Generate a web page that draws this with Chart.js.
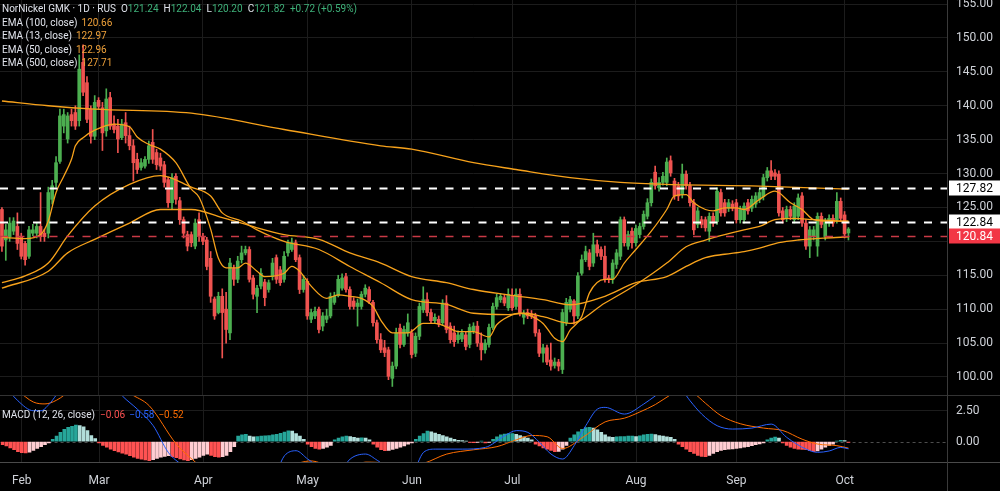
<!DOCTYPE html>
<html>
<head>
<meta charset="utf-8">
<script src="https://cdn.jsdelivr.net/npm/chart.js@4.4.1/dist/chart.umd.min.js"></script>
<style>
  html, body { margin: 0; padding: 0; background: #000; overflow: hidden; }
  #wrap { position: relative; width: 1000px; height: 491px; overflow: hidden; background: #000; font-family: Roboto, "Liberation Sans", sans-serif; }
  canvas { position: absolute; left: 0; display: block; }
  #price { top: 0; }
  #macd { top: 395px; }
  .hsep { position: absolute; left: 0; width: 1000px; height: 1px; }
  .vsep { position: absolute; left: 947px; top: 0; width: 1px; height: 491px; background: #3a3a3a; }
  .legend { position: absolute; left: 2px; font-size: 10px; line-height: 13.6px; color: #e0e3eb; white-space: nowrap; }
  .legend span { margin-left: 4px; }
  .legend .k { margin-left: 5px; }
  .legend .k + span { margin-left: 0; }
  .up { color: #3fb27a; }
  .ema { color: #f0a23a; }
</style>
</head>
<body>
<div id="wrap">
  <canvas id="price" width="1000" height="395"></canvas>
  <canvas id="macd" width="1000" height="96"></canvas>
  <div class="hsep" style="top:395px;background:#333"></div>
  <div class="hsep" style="top:462px;background:#4a4a4a"></div>
  <div class="vsep"></div>
  <div class="legend" style="top:2px">
    <div>NorNickel GMK · 1D · RUS<span class="k">O</span><span class="up">121.24</span><span class="k">H</span><span class="up">122.04</span><span class="k">L</span><span class="up">120.20</span><span class="k">C</span><span class="up">121.82</span><span class="up" style="margin-left:5px">+0.72 (+0.59%)</span></div>
    <div>EMA (100, close)<span class="ema">120.66</span></div>
    <div>EMA (13, close)<span class="ema">122.97</span></div>
    <div>EMA (50, close)<span class="ema">122.96</span></div>
    <div>EMA (500, close)<span class="ema">127.71</span></div>
  </div>
  <div class="legend" style="top:408px">MACD (12, 26, close)<span style="color:#ff5252;margin-left:5px">−0.06</span><span style="color:#2962ff">−0.58</span><span style="color:#ff6d00">−0.52</span></div>
</div>
<script>
// slots on the time axis (trading days + empty space on the right)
const slots = Array.from({ length: 245 }, (_, i) => i);
const monthNames = ['Feb', 'Mar', 'Apr', 'May', 'Jun', 'Jul', 'Aug', 'Sep', 'Oct'];
const monthSlots = [5, 25, 52, 79, 106, 132, 164, 190, 218];
const priceTicks = [100, 105, 110, 115, 120, 125, 130, 135, 140, 145, 150, 155];
const macdTicks = [0, 2.5];

// daily candles
const opens = [124.7,120.2,120.7,121.5,122.2,120.7,119.7,117.8,121.2,121.2,122.2,121.2,121.2,126.2,128.7,131.8,137.0,135.1,138.7,139.0,
  137.8,146.4,143.4,139.5,135.5,140.8,139.7,136.3,141.2,137.3,137.0,135.3,137.5,135.6,134.1,132.1,130.9,131.1,132.1,134.6,
  133.1,132.3,131.3,129.1,125.7,129.6,126.0,123.2,121.0,121.0,119.3,123.2,120.7,120.2,117.5,111.5,109.5,111.9,110.0,106.5,
  116.0,114.4,117.3,118.3,118.8,114.6,111.9,113.4,114.0,112.9,114.8,117.6,115.8,114.4,118.3,118.8,119.8,117.6,112.9,114.1,
  108.5,109.0,110.0,107.5,108.5,109.0,111.0,112.0,113.1,114.8,112.9,111.2,110.4,110.4,112.2,112.9,111.0,108.0,105.5,104.3,
  104.0,99.8,101.6,107.2,104.8,106.5,106.5,103.5,106.0,109.9,111.4,109.5,108.3,108.5,108.0,110.9,107.5,106.5,105.5,105.6,
  106.2,104.8,106.8,107.5,105.0,104.0,104.8,107.3,110.4,111.4,111.7,110.2,111.9,110.4,112.2,108.8,109.5,109.3,109.0,106.5,
  103.5,104.3,102.5,101.7,102.2,101.1,108.0,110.0,111.2,109.0,115.3,117.3,118.3,116.8,119.5,118.8,117.8,114.6,114.4,116.6,
  117.8,123.2,119.3,121.5,119.8,121.0,122.2,123.7,125.7,130.2,127.9,128.7,128.7,131.9,128.9,128.2,126.9,129.9,128.2,125.7,
  122.5,123.2,123.2,121.5,123.7,122.9,127.2,125.7,124.9,125.5,125.7,123.2,123.2,125.7,124.9,125.5,126.2,126.6,129.4,130.4,
  130.1,129.9,124.5,123.4,124.7,123.2,123.7,126.7,122.7,119.3,120.7,119.3,123.7,120.7,122.7,123.4,123.2,125.9,123.9,121.24];
const highs = [125.0,122.5,123.5,123.5,124.2,121.2,120.0,122.2,122.5,122.8,127.2,121.8,128.0,129.0,132.5,139.5,139.5,139.0,139.5,140.0,
  147.5,149.0,144.3,140.0,141.5,141.2,140.5,142.5,142.0,138.5,138.0,138.0,139.0,137.0,135.0,133.0,132.2,132.5,134.8,136.5,
  133.6,133.0,131.8,129.5,130.0,130.0,126.5,123.6,121.5,121.4,123.3,124.2,121.2,120.6,118.5,111.8,112.5,113.0,112.5,117.5,
  116.5,117.8,119.3,119.3,119.2,115.0,113.5,116.0,114.4,114.3,117.5,118.0,116.3,118.5,120.2,120.5,120.2,118.0,115.0,114.5,
  110.0,110.3,110.3,109.5,110.0,112.4,112.5,115.0,115.2,115.3,113.3,111.7,111.5,112.6,113.6,113.3,111.3,108.4,106.4,105.4,
  104.4,102.2,107.2,107.8,107.5,109.3,107.0,106.5,110.9,113.3,112.4,110.0,109.3,109.0,111.4,112.0,108.0,107.5,106.8,107.0,
  106.6,107.8,108.0,108.2,106.5,105.5,107.8,110.9,112.2,112.3,112.2,113.0,113.0,113.0,113.0,109.8,110.0,109.8,109.4,107.0,
  104.8,104.7,105.0,102.8,102.6,110.0,111.6,111.9,111.4,115.4,118.0,119.3,118.8,121.2,120.2,119.2,119.3,115.0,117.3,118.8,
  123.6,123.6,121.5,122.0,122.4,122.7,124.5,126.3,129.2,131.1,129.4,130.2,132.3,132.6,129.3,128.7,131.4,130.4,128.7,126.2,
  125.0,123.7,123.6,124.2,124.2,127.9,127.7,126.2,126.2,126.0,126.2,125.2,125.7,126.2,126.7,127.2,127.7,129.9,130.9,131.9,
  130.6,130.4,125.0,125.2,125.2,125.7,127.0,127.2,123.2,122.2,122.2,124.2,124.2,123.4,123.9,123.9,127.2,126.4,124.4,122.04];
const lows = [118.5,117.2,120.0,121.0,118.8,117.4,116.5,117.5,120.8,120.5,120.0,120.0,120.5,125.5,128.0,131.5,136.0,134.5,137.0,136.5,
  137.0,141.5,137.5,134.5,135.0,139.5,133.4,135.5,136.5,136.0,133.1,135.0,134.5,133.5,128.9,130.0,130.5,130.8,131.5,131.5,
  130.6,130.5,128.0,125.0,124.7,125.5,122.5,120.5,118.6,119.2,118.9,120.0,119.5,115.8,111.0,108.5,109.3,102.8,105.0,105.5,
  113.5,113.9,116.8,118.0,114.0,111.5,109.5,113.0,110.5,112.5,114.3,113.8,113.5,114.0,117.8,118.5,117.0,112.3,112.5,108.5,
  108.0,108.6,106.5,106.8,108.0,108.7,110.7,111.8,112.8,112.5,110.0,110.0,107.5,110.0,111.8,110.8,107.5,105.0,103.6,103.0,
  99.6,98.6,101.2,104.3,104.5,106.0,102.8,103.0,105.5,109.5,109.0,107.9,108.0,107.4,107.6,106.5,105.0,104.5,105.0,105.2,
  104.0,104.3,106.4,104.5,102.5,103.5,104.4,107.0,110.0,111.0,110.5,109.8,109.8,110.0,109.0,107.8,108.6,108.6,106.0,103.0,
  102.2,101.8,101.0,101.3,100.9,100.5,107.6,109.6,107.8,108.6,115.0,117.0,115.8,116.3,117.8,117.3,114.0,113.9,113.8,116.0,
  117.3,119.3,118.8,119.0,119.3,120.5,121.8,123.3,125.2,127.7,127.4,128.3,128.2,129.6,126.2,126.0,126.4,127.7,125.2,121.0,
  122.0,122.0,121.5,120.0,122.2,122.5,123.7,123.7,124.4,124.5,122.7,122.7,122.7,124.0,124.4,125.0,125.7,126.1,128.9,129.1,
  129.1,123.7,122.7,122.9,123.2,122.7,123.2,122.2,118.8,117.6,120.2,117.8,122.0,120.2,122.2,122.2,122.7,122.9,120.5,120.20];
const closes = [119.3,121.7,122.7,123.0,119.7,117.8,117.3,121.7,121.7,122.2,120.7,120.7,127.2,128.2,131.6,138.5,138.7,138.5,137.8,137.0,
  145.4,142.0,138.0,135.5,140.5,139.9,136.0,141.0,137.0,136.5,135.1,137.3,135.6,134.1,131.6,130.6,131.6,132.1,134.1,132.1,
  131.3,131.1,128.7,125.7,129.4,126.2,123.2,121.2,119.3,119.8,122.7,120.7,120.0,116.3,111.9,109.0,111.9,109.5,107.0,116.8,
  114.4,117.1,118.3,118.8,114.4,112.2,113.1,115.3,111.7,113.9,116.8,114.4,113.9,117.8,119.8,119.8,117.3,112.9,114.4,109.0,
  109.5,109.7,107.0,109.0,109.0,111.9,111.9,114.4,114.6,112.9,110.4,110.4,110.9,112.2,113.1,111.2,108.0,105.5,104.0,103.6,
  100.1,101.6,106.5,104.8,107.0,108.0,103.3,106.0,110.4,111.4,109.5,108.3,108.8,107.8,110.9,107.0,105.5,105.2,106.2,106.5,
  104.5,107.3,107.5,105.0,104.0,105.0,107.3,110.4,111.7,111.9,110.9,112.2,110.2,112.2,109.5,109.3,109.0,109.0,106.5,103.5,
  104.3,102.2,101.6,102.2,101.6,109.5,111.0,111.4,109.0,114.9,117.3,118.5,116.3,119.5,118.3,117.8,114.4,114.4,116.8,118.3,
  123.2,119.8,121.0,119.8,121.9,122.2,124.0,125.7,128.7,128.2,128.7,129.6,131.7,130.1,126.7,126.7,129.9,128.2,125.7,121.7,
  124.5,122.5,122.0,123.7,122.7,127.4,124.2,124.2,125.7,124.9,123.2,124.7,125.2,124.5,126.2,126.7,127.2,129.4,130.4,129.6,
  129.6,124.2,123.2,124.7,123.7,125.2,126.4,122.7,119.3,121.7,121.7,123.7,122.5,122.9,123.4,122.7,125.9,123.4,121.1,121.82];

// moving averages: [slot, value]
const ema13 = [[0,120.6],[6,120.4],[10,121.0],[12,123.0],[14,127.2],[16,129.6],[18,132.1],[19,134.1],[21,135.3],[24,136.4],
  [29,137.3],[33,136.9],[35,135.4],[38,134.3],[41,133.6],[45,131.6],[49,127.7],[51,126.5],[54,121.8],[56,117.5],[58,116.1],
  [61,116.1],[63,116.8],[66,115.6],[68,114.8],[73,115.3],[75,116.3],[77,115.6],[80,113.4],[84,111.6],[87,112.1],[90,111.9],
  [93,111.6],[96,110.4],[98,108.4],[101,106.5],[105,106.5],[109,107.9],[112,107.9],[115,107.4],[118,106.7],[122,106.7],
  [126,105.9],[128,107.7],[131,108.9],[134,109.4],[136,109.2],[140,107.9],[143,105.7],[145,105.2],[147,106.9],[150,108.9],
  [152,112.4],[156,114.4],[158,114.4],[161,116.8],[164,118.8],[168,121.5],[172,124.7],[174,126.7],[177,126.9],[179,125.7],
  [182,124.7],[184,124.5],[187,124.95],[190,124.95],[192,124.7],[196,126.2],[200,127.4],[204,125.7],[207,124.7],[210,123.2],
  [213,123.0],[219,122.97]];
const ema50 = [[0,113.9],[6,114.9],[12,116.8],[17,120.8],[24,125.2],[33,128.4],[41,129.7],[49,128.0],[54,126.7],[57,124.2],
  [62,123.0],[66,121.7],[73,120.0],[82,118.8],[90,116.3],[98,113.9],[106,111.4],[115,110.7],[122,109.4],[131,109.2],[135,109.4],
  [140,108.9],[147,107.9],[156,110.9],[164,113.6],[172,116.8],[177,119.2],[182,120.2],[187,121.0],[192,121.7],[196,122.2],
  [200,123.2],[205,123.4],[210,123.2],[219,122.96]];
const ema100 = [[0,113.1],[12,115.6],[17,118.3],[24,120.3],[33,122.7],[41,124.7],[49,124.7],[57,123.5],[62,122.7],[66,122.0],
  [73,121.0],[82,120.3],[90,118.3],[98,116.8],[106,114.8],[115,113.9],[122,112.9],[131,112.1],[140,111.4],[147,110.65],
  [156,111.9],[164,113.9],[172,114.8],[177,116.3],[182,117.6],[187,118.1],[192,118.5],[196,119.0],[201,119.8],[206,120.2],
  [213,120.5],[219,120.66]];
const ema500 = [[0,140.7],[12,140.0],[24,139.5],[49,138.9],[73,136.5],[98,134.1],[106,133.6],[122,131.6],[133,130.6],
  [147,129.4],[160,128.7],[172,128.4],[196,128.15],[219,127.71]];

// MACD pane
const histogram = [-0.25,-0.35,-0.5,-0.65,-0.8,-0.88,-0.9,-0.85,-0.7,-0.55,-0.4,-0.25,-0.1,
  0.2,0.45,0.75,1.0,1.15,1.25,1.35,1.3,1.2,0.9,0.5,0.25,-0.1,
  -0.3,-0.45,-0.6,-0.72,-0.82,-0.92,-1.0,-1.12,-1.25,-1.35,-1.42,-1.48,-1.53,-1.45,-1.35,-1.26,-1.18,-1.13,-1.2,-1.3,-1.4,
  -1.48,-1.53,-1.45,-1.35,-1.25,-1.1,-1.0,-1.1,-1.2,-1.26,-1.2,-1.1,-0.8,-0.4,
  0.45,0.55,0.6,0.45,0.4,0.42,0.45,0.48,0.5,0.55,0.6,0.68,0.78,0.88,0.85,0.65,0.45,0.2,
  -0.2,-0.4,-0.55,-0.6,-0.55,-0.45,-0.3,
  0.15,0.3,0.4,0.45,0.42,0.35,0.3,0.32,0.3,0.15,
  -0.2,-0.45,-0.65,-0.73,-0.7,-0.62,-0.55,-0.45,-0.35,-0.2,-0.1,
  0.2,0.45,0.65,0.85,0.8,0.7,0.6,0.5,0.4,0.3,0.2,
  0.1,0.08,0.05,-0.05,-0.08,-0.05,0.05,-0.1,-0.05,
  0.2,0.4,0.55,0.62,0.65,0.66,0.6,0.5,0.4,0.3,0.15,
  -0.2,-0.35,-0.5,-0.6,-0.7,-0.8,-0.78,-0.6,-0.3,
  0.3,0.55,0.8,1.0,1.13,1.15,1.1,0.95,0.75,0.55,0.4,0.35,0.4,0.42,0.42,0.45,0.45,0.42,0.48,0.55,0.6,0.62,0.58,0.5,0.45,0.4,0.35,0.2,
  -0.2,-0.4,-0.6,-0.8,-0.95,-1.1,-1.18,-1.2,-1.1,-0.95,-0.8,-0.7,-0.65,-0.6,-0.58,-0.55,-0.5,-0.45,-0.4,-0.32,-0.25,-0.18,-0.1,
  0.15,0.3,0.38,0.3,
  -0.1,-0.3,-0.45,-0.55,-0.6,-0.62,-0.65,-0.72,-0.8,-0.75,-0.6,-0.45,-0.3,-0.2,
  0.05,0.1,0.08,-0.06];
const macdLine = [[0,4.75],[4,3.3],[8,2.5],[10,2.5],[12,3.0],[14,3.8],[16,4.7],[20,6.0],[26,5.5],[31,3.7],[35,2.6],[39,1.3],[43,-0.9],
  [48,-2.2],[52,-3.2],[60,-3.8],[66,-3.0],[71,-2.3],[73,-1.13],[76,-0.73],[79,-1.4],[84,-2.47],[86,-2.8],[88,-2.2],[90,-1.4],
  [94,-1.0],[97,-1.5],[101,-2.3],[106,-2.4],[109,-0.86],[112,-0.6],[119,-0.6],[125,-0.46],[130,0.48],[133,0.89],[136,0.75],
  [139,-0.05],[142,-1.0],[145,-1.4],[148,-0.32],[151,1.29],[154,2.63],[156,2.77],[161,2.23],[166,3.04],[169,3.7],[173,4.5],
  [176,4.1],[178,3.3],[181,2.23],[185,1.29],[189,1.02],[194,1.1],[199,1.42],[203,0.35],[208,-0.6],[211,-0.86],[214,-0.75],
  [217,-0.46],[219,-0.58]];
const signalLine = [[0,5.0],[4,4.1],[8,3.2],[11,3.05],[14,3.35],[18,4.2],[24,5.0],[29,4.9],[33,3.9],[38,2.9],[45,-0.19],[50,-1.67],
  [53,-2.47],[60,-3.4],[66,-3.3],[70,-3.0],[73,-2.2],[77,-1.7],[80,-1.55],[85,-1.95],[90,-1.95],[94,-1.65],[100,-1.75],
  [104,-2.0],[109,-1.75],[115,-1.0],[122,-0.65],[128,-0.4],[133,0.15],[137,0.5],[141,0.4],[145,-0.55],[150,0.3],[156,1.6],
  [161,1.9],[165,2.4],[169,3.0],[173,3.8],[176,4.3],[179,3.9],[182,3.1],[186,2.1],[191,1.45],[197,1.1],[202,0.9],[207,0.2],
  [211,-0.19],[216,-0.32],[219,-0.52]];

// horizontal price levels
const levels = [127.82, 122.84, 120.84];

const UP = '#4caf50';
const DOWN = '#ef5350';
const EMA_COLOR = '#f7a21b';
const GRID = '#1c1c1c';
const TICK_COLOR = '#cfd2d8';
const axisFont = { family: 'Roboto', size: 12 };

const toPoints = pts => pts.map(([x, y]) => ({ x, y }));
const candleColors = closes.map((c, i) => (c >= opens[i] ? UP : DOWN));
const histColors = histogram.map((v, i) => {
  const prev = i > 0 ? histogram[i - 1] : 0;
  if (v >= 0) return v >= prev ? '#26a69a' : '#b2dfdb';
  return v <= prev ? '#ff5252' : '#ffcdd2';
});

function monthAxis(showLabels) {
  return {
    type: 'category',
    offset: true,
    afterBuildTicks: s => { s.ticks = monthSlots.map(v => ({ value: v })); },
    afterFit: s => { s.height = showLabels ? 29 : 0; },
    ticks: {
      display: showLabels, autoSkip: false, maxRotation: 0, padding: 12,
      color: TICK_COLOR, font: axisFont,
      callback: (v, i) => monthNames[i]
    },
    grid: { color: GRID, offset: false, drawTicks: false },
    border: { display: false }
  };
}

// right-hand value axis: fixed width, no extra room above/below for labels
function valueAxis(min, max, tickValues, format, gridColor) {
  return {
    position: 'right', min, max,
    afterBuildTicks: s => { s.ticks = tickValues.map(v => ({ value: v })); },
    afterFit: s => { s.width = 53; s.paddingTop = 0; s.paddingBottom = 0; },
    ticks: { color: TICK_COLOR, font: axisFont, padding: 9, callback: format },
    grid: { color: gridColor, drawTicks: false },
    border: { display: false }
  };
}

function emaDataset(pts) {
  return {
    type: 'line', data: toPoints(pts), borderColor: EMA_COLOR, borderWidth: 1.3,
    pointRadius: 0, cubicInterpolationMode: 'monotone', order: 0
  };
}

// dashed price lines and their labels on the axis
const priceLevels = {
  id: 'priceLevels',
  afterDatasetsDraw(chart) {
    const { ctx, chartArea, scales: { y } } = chart;
    ctx.save();
    levels.forEach((v, k) => {
      const py = Math.round(y.getPixelForValue(v)) + 0.5;
      ctx.setLineDash([8, 8.5]);
      ctx.strokeStyle = k === 2 ? '#c93a46' : '#ffffff';
      ctx.lineWidth = k === 2 ? 1.5 : 2;
      ctx.beginPath();
      ctx.moveTo(chartArea.left, py);
      ctx.lineTo(chartArea.right, py);
      ctx.stroke();
    });
    ctx.restore();
  },
  afterDraw(chart) {
    const { ctx, chartArea, scales: { y } } = chart;
    ctx.save();
    ctx.font = '12px Roboto';
    ctx.textBaseline = 'middle';
    levels.forEach((v, k) => {
      const py = Math.round(y.getPixelForValue(v));
      ctx.fillStyle = k === 2 ? '#f23645' : '#ffffff';
      ctx.fillRect(chartArea.right + 2, py - 7.5, 51, 15);
      ctx.fillStyle = k === 2 ? '#ffffff' : '#000000';
      ctx.fillText(v.toFixed(2), chartArea.right + 9, py + 0.5);
    });
    ctx.restore();
  }
};

const zeroLine = {
  id: 'zeroLine',
  beforeDatasetsDraw(chart) {
    const { ctx, chartArea, scales: { y } } = chart;
    const py = Math.round(y.getPixelForValue(0)) + 0.5;
    ctx.save();
    ctx.setLineDash([3, 3]);
    ctx.strokeStyle = '#4d4d4d';
    ctx.lineWidth = 1;
    ctx.beginPath();
    ctx.moveTo(chartArea.left, py);
    ctx.lineTo(chartArea.right, py);
    ctx.stroke();
    ctx.restore();
  }
};

const baseOptions = {
  responsive: false,
  animation: false,
  events: [],
  layout: { padding: 0, autoPadding: false },
  plugins: { legend: { display: false }, tooltip: { enabled: false } }
};

new Chart(document.getElementById('price'), {
  type: 'bar',
  data: {
    labels: slots,
    datasets: [
      { data: lows.map((l, i) => [l, highs[i]]), backgroundColor: candleColors, barThickness: 1, grouped: false, order: 2 },
      { data: opens.map((o, i) => [o, closes[i]]), backgroundColor: candleColors, barThickness: 3, minBarLength: 1, grouped: false, order: 1 },
      emaDataset(ema500),
      emaDataset(ema100),
      emaDataset(ema50),
      emaDataset(ema13)
    ]
  },
  options: {
    ...baseOptions,
    scales: {
      x: monthAxis(false),
      y: valueAxis(97.34, 155.6, priceTicks, v => (v === 120 ? '' : v.toFixed(2)), GRID)
    }
  },
  plugins: [priceLevels]
});

new Chart(document.getElementById('macd'), {
  type: 'bar',
  data: {
    labels: slots,
    datasets: [
      { data: histogram, backgroundColor: histColors, barThickness: 3, grouped: false, order: 1 },
      { type: 'line', data: toPoints(macdLine), borderColor: '#2962ff', borderWidth: 1, pointRadius: 0, cubicInterpolationMode: 'monotone', order: 0 },
      { type: 'line', data: toPoints(signalLine), borderColor: '#ff6d00', borderWidth: 1, pointRadius: 0, cubicInterpolationMode: 'monotone', order: 0 }
    ]
  },
  options: {
    ...baseOptions,
    scales: {
      x: monthAxis(true),
      y: valueAxis(-1.64, 3.77, macdTicks, v => v.toFixed(2),
        ctx => (ctx.tick && ctx.tick.value === 0 ? 'transparent' : GRID))
    }
  },
  plugins: [zeroLine]
});
</script>
</body>
</html>
